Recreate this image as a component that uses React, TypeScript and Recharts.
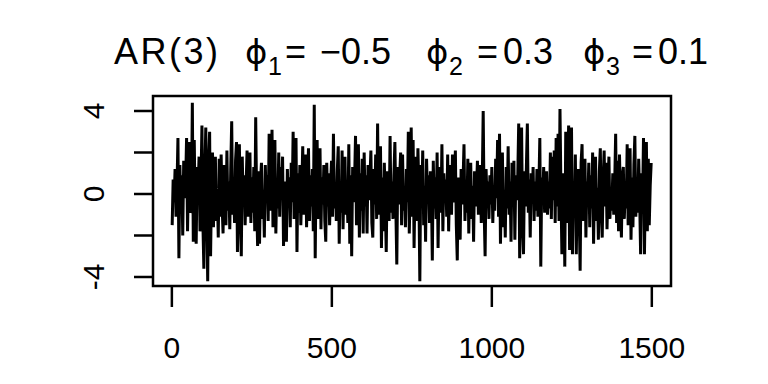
import { LineChart, Line, XAxis, YAxis, ReferenceArea } from 'recharts'

const STEP = 3

const part1 = [
  -1.5, 0.7, -0.4, 1.2, -1.1, 0.3, 2.7, -3.1, 1.4, -0.6,
  0.9, -2.0, 1.6, -0.2, 0.5, 2.7, -1.8, 1.1, 2.5, -0.9,
  -0.8, 4.4, -2.3, 2.6, -1.2, -2.4, 1.3, 0.2, 1.8, -1.8,
  0.6, 3.3, -1.4, -3.6, 0.9, 3.2, -0.7, -4.2, 1.5, 3.0,
  -3.0, 0.4, 2.0, -1.6, 0.8, 1.8, -1.3, 0.2, -2.1, 1.7,
  -1.1, 1.9, -0.5, -1.9, 1.4, 0.3, -1.5, 2.1, -0.8, 0.6,
  -1.7, 1.2, 3.5, -1.0, 0.1, -1.4, 1.6, 2.5, -2.8, 0.7,
  2.4, -1.2, -3.0, 1.8, -0.6, 0.9, -1.5, 0.4, 2.1, -1.1,
  0.3, 2.0, -1.4, 0.8, -0.9, 1.3, -1.8, 3.7, -0.4, -2.5,
  1.1, -2.4, 0.6, 1.5, -1.2, 0.2, -2.1, 1.4, -0.3, 0.9,
]

const part2 = [
  -1.3, 2.9, -0.8, 0.4, 3.1, -1.6, 1.0, 2.6, -1.9, 0.5,
  -0.7, 2.0, -1.1, 1.3, -0.2, 1.8, -2.5, 0.6, -1.4, -2.3,
  1.2, -0.5, 0.8, -1.6, 1.5, -0.4, 3.0, -1.2, 0.3, 2.7,
  -2.8, 1.0, -0.9, 1.4, -1.5, 0.2, 2.3, -1.0, 0.7, 1.9,
  -1.6, 0.5, 2.2, -1.3, 0.9, -0.6, 1.2, -1.8, 4.3, -3.1,
  1.7, 2.6, -1.2, 0.4, 2.2, -1.7, 0.8, -0.5, 1.4, -1.3,
  -2.3, 1.5, -0.6, 1.0, -1.5, 0.3, 1.6, -1.1, 2.9, -0.7,
  0.4, -1.3, 1.1, 2.3, -2.4, 0.6, -0.9, 2.1, -1.7, 0.8,
  1.8, -1.0, 0.2, -1.4, 2.4, -2.4, 0.9, -3.0, 1.3, -0.4,
  0.6, 2.8, -1.5, 0.3, 2.4, -2.1, 1.0, -0.8, 1.7, -1.9,
]

const part3 = [
  2.0, -0.6, 0.9, -1.9, 1.4, -0.3, 0.7, 2.1, -1.4, -2.1,
  1.2, -0.5, 1.9, -1.2, 3.4, -1.0, 0.4, 2.3, -2.6, 0.8,
  -1.8, 1.5, -0.4, -2.8, 1.1, 0.2, -1.3, 2.8, -0.9, 0.6,
  -1.2, 0.9, 2.5, -0.7, -3.4, 1.3, -0.5, 0.8, 2.0, -1.5,
  1.9, -0.8, 0.3, -1.6, 1.2, -0.4, 3.0, -1.9, 0.5, 3.2,
  -1.1, 2.6, -2.6, 0.7, 1.8, -1.3, 2.2, 0.1, -4.2, 1.4,
  -0.6, 2.1, -1.5, 0.4, -2.3, 1.7, -0.2, 0.9, -1.4, 1.1,
  0.3, -3.2, 1.6, -0.7, 0.8, -1.2, 2.0, -2.6, 0.6, 1.3,
  -0.9, 2.4, -1.8, 1.0, -0.3, 0.7, -1.1, 1.9, -1.8, 0.5,
  1.4, -1.0, 1.9, -0.4, 0.2, 2.1, -1.5, -3.2, 0.8, -0.6,
]

const part4 = [
  -2.2, 1.2, -0.5, 0.6, 2.4, -1.3, 0.3, -0.9, 1.7, -1.9,
  0.9, 1.5, -1.2, 0.4, -2.3, 1.1, -0.6, 0.2, 1.6, -1.0,
  0.7, 1.4, -1.4, 0.5, 4.0, -0.8, -3.0, 1.2, -0.3, 0.6,
  -1.2, 0.9, -0.5, 1.3, -1.4, 0.4, -0.8, 1.7, -0.2, 2.6,
  -1.1, 2.9, -2.4, 0.5, 2.0, -1.6, 0.2, -2.1, 1.3, -0.7,
  2.3, -1.0, 0.6, -2.3, 1.5, -0.4, 1.6, -2.2, 0.9, -0.3,
  0.8, 3.4, -3.1, 0.5, 3.2, -1.5, -2.9, 1.1, -0.6, 1.3,
  3.4, -0.9, 0.7, -2.1, 1.0, -0.4, 1.3, -1.3, 0.6, -0.8,
  1.2, -1.1, 0.3, 2.7, -3.5, 0.8, -0.5, 1.3, -0.9, 0.4,
  1.1, -1.0, 0.6, -0.7, 2.0, -1.2, 1.8, -0.3, 2.1, -1.4,
]

const part5 = [
  2.7, -0.6, 2.9, -1.3, 4.1, 0.2, -2.9, 1.0, 0.5, -3.5,
  3.0, -1.4, 0.8, 3.3, -2.7, 1.2, 3.2, -2.9, 0.6, -1.1,
  1.9, -2.9, 0.4, 1.2, -0.8, -3.7, 1.5, 2.4, -1.3, 0.2,
  1.7, -2.1, 0.6, -0.4, 1.5, -1.6, 0.9, -0.7, 2.0, -2.4,
  0.8, 1.8, -1.3, 0.3, -2.2, 1.1, 2.2, -0.9, -2.1, 0.7,
  2.1, -0.6, 1.5, -1.7, 0.4, 1.8, -1.2, 0.2, -0.8, 1.0,
  -1.0, 0.5, 2.9, -1.4, 1.6, -1.8, 1.9, -0.5, -2.1, 0.9,
  1.3, -1.2, 0.3, -0.7, 2.4, -1.5, 0.6, 2.2, -2.2, 0.8,
  -1.6, 1.4, 2.8, -1.1, 0.4, -0.9, 1.7, -0.3, -2.9, 1.0,
  -0.5, 2.7, -2.9, 0.6, 2.5, -1.8, 1.7, -1.5, 0.4, 1.5,
]

const values = [...part1, ...part2, ...part3, ...part4, ...part5]
const data = values.map((v, i) => ({ t: 1 + i * STEP, v }))

const xTicks = [0, 500, 1000, 1500]
const yTicks = [-4, -2, 0, 2, 4]
const yLabeled = [-4, 0, 4]

// R pads the data range by 4% on each side
const X_DOMAIN: [number, number] = [-58.96, 1559.96]
const Y_DOMAIN: [number, number] = [-4.434, 4.723]

const FONT = '"Liberation Sans", Arial, "DejaVu Sans", sans-serif'
const LW = 2.5

function XTick({ x, payload }: any) {
  return (
    <text x={x} y={358} textAnchor="middle" fontFamily={FONT} fontSize={30} fill="#000">
      {payload.value}
    </text>
  )
}

function YTick({ y, payload }: any) {
  if (!yLabeled.includes(payload.value)) return <g />
  return (
    <text
      x={104}
      y={y}
      transform={`rotate(-90, 104, ${y})`}
      textAnchor="middle"
      fontFamily={FONT}
      fontSize={30}
      fill="#000"
    >
      {payload.value}
    </text>
  )
}

function Title() {
  const big = { fontFamily: FONT, fontSize: 36, fill: '#000' }
  const phi = { fontFamily: '"DejaVu Sans", sans-serif', fontSize: 34, fill: '#000' }
  const sub = { fontFamily: FONT, fontSize: 25, fill: '#000' }
  return (
    <svg width={768} height={384} style={{ position: 'absolute', left: 0, top: 0, pointerEvents: 'none' }}>
      <text x={114} y={64} {...big} textLength={104} lengthAdjust="spacing">AR(3)</text>

      <text x={245} y={64} {...phi}>ϕ</text>
      <text x={268} y={75} {...sub}>1</text>
      <text x={285} y={64} {...big}>=</text>
      <text x={320} y={64} {...big}>−0.5</text>

      <text x={426} y={64} {...phi}>ϕ</text>
      <text x={449} y={75} {...sub}>2</text>
      <text x={477} y={64} {...big}>=</text>
      <text x={503} y={64} {...big}>0.3</text>

      <text x={583} y={64} {...phi}>ϕ</text>
      <text x={606} y={75} {...sub}>3</text>
      <text x={632} y={64} {...big}>=</text>
      <text x={658} y={64} {...big}>0.1</text>
    </svg>
  )
}

export default function App() {
  return (
    <div style={{ position: 'absolute', left: 0, top: 0, width: 768, height: 384, background: '#fff' }}>
      <LineChart width={768} height={384} data={data} margin={{ top: 96, right: 97, bottom: 28, left: 93 }}>
        <XAxis
          dataKey="t"
          type="number"
          domain={X_DOMAIN}
          ticks={xTicks}
          interval={0}
          allowDataOverflow
          axisLine={false}
          tickSize={21}
          tickLine={{ stroke: '#000', strokeWidth: LW }}
          tick={(p: any) => <XTick {...p} />}
          height={70}
        />
        <YAxis
          type="number"
          domain={Y_DOMAIN}
          ticks={yTicks}
          interval={0}
          allowDataOverflow
          axisLine={false}
          tickSize={19}
          tickLine={{ stroke: '#000', strokeWidth: LW }}
          tick={(p: any) => <YTick {...p} />}
          width={60}
        />
        <Line
          type="linear"
          dataKey="v"
          stroke="#000"
          strokeWidth={3}
          strokeLinejoin="miter"
          dot={false}
          isAnimationActive={false}
        />
        <ReferenceArea
          x1={X_DOMAIN[0]}
          x2={X_DOMAIN[1]}
          y1={Y_DOMAIN[0]}
          y2={Y_DOMAIN[1]}
          fill="none"
          stroke="#000"
          strokeWidth={LW}
          ifOverflow="visible"
        />
      </LineChart>
      <Title />
    </div>
  )
}
